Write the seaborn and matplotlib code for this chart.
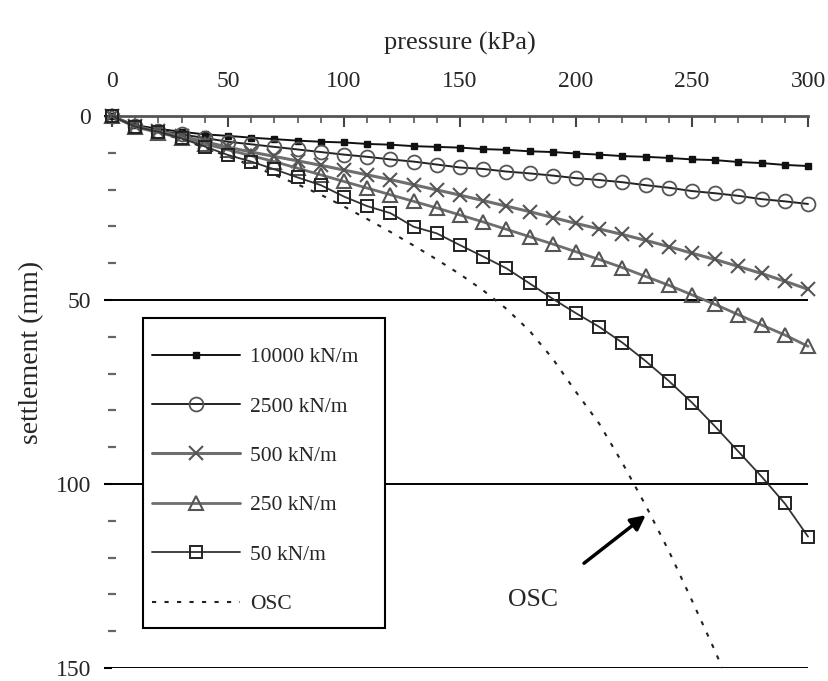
import pandas as pd
import matplotlib.pyplot as plt
import seaborn as sns
from matplotlib.ticker import MultipleLocator
from matplotlib.patches import Rectangle

# pressure steps (kPa) used by every stiffness series
pressure = [0, 10, 20, 30, 40, 50, 60, 70, 80, 90, 100, 110, 120, 130, 140, 150,
            160, 170, 180, 190, 200, 210, 220, 230, 240, 250, 260, 270, 280, 290, 300]

# settlement (mm)
s_10000 = [0, 2.5, 3.5, 4.3, 5.0, 5.4, 5.9, 6.3, 6.7, 7.0, 7.2, 7.6, 7.8, 8.2, 8.4, 8.6,
           9.0, 9.2, 9.6, 9.8, 10.2, 10.5, 10.9, 11.1, 11.4, 11.8, 12.0, 12.5, 12.8, 13.3, 13.6]
s_2500 = [0, 2.8, 4.0, 5.0, 6.0, 7.0, 7.7, 8.4, 9.1, 9.8, 10.5, 11.1, 11.8, 12.4, 13.2, 14.0,
          14.4, 15.1, 15.6, 16.2, 16.9, 17.4, 18.0, 18.8, 19.5, 20.4, 21.0, 21.7, 22.6, 23.2, 23.9]
s_500 = [0, 2.8, 4.2, 5.5, 7.0, 8.5, 9.8, 11.0, 12.2, 13.4, 14.7, 16.0, 17.3, 18.7, 20.1, 21.5,
         23.0, 24.5, 26.0, 27.6, 29.2, 30.7, 32.2, 33.8, 35.5, 37.3, 39.0, 40.9, 42.8, 44.9, 47.1]
s_250 = [0, 3.0, 4.5, 6.0, 7.6, 9.2, 10.8, 12.4, 14.2, 16.0, 17.8, 19.6, 21.4, 23.2, 25.0, 26.9,
         28.8, 30.8, 32.8, 34.8, 36.9, 39.0, 41.2, 43.6, 46.0, 48.6, 51.2, 54.0, 56.8, 59.5, 62.6]
s_50 = [0, 2.9, 4.3, 6.1, 8.3, 10.6, 12.4, 14.5, 16.7, 18.8, 21.9, 24.5, 26.4, 30.1, 31.9, 35.1,
        38.2, 41.4, 45.5, 49.7, 53.6, 57.3, 61.6, 66.6, 72.0, 77.9, 84.4, 91.2, 98.0, 105.3, 114.3]

# OSC curve (no markers), ends where it leaves the chart at 150 mm
osc_pressure = [0, 10, 20, 30, 40, 50, 60, 70, 80, 90, 100, 110, 120, 130, 140, 150,
                160, 170, 180, 190, 200, 210, 220, 230, 240, 250, 260, 263]
osc_settlement = [0, 2.8, 4.5, 6.4, 8.6, 11.0, 13.4, 16.0, 18.6, 21.4, 24.6, 28.0, 31.5, 35.2,
                  39.0, 43.0, 47.4, 52.4, 58.4, 66.0, 75.0, 83.6, 94.3, 105.8, 118.2, 131.7, 145.5, 150]

labels = ["10000 kN/m", "2500 kN/m", "500 kN/m", "250 kN/m", "50 kN/m"]
series = [s_10000, s_2500, s_500, s_250, s_50]

rows = []
for lab, vals in zip(labels, series):
    for p, s in zip(pressure, vals):
        rows.append({"pressure": p, "settlement": s, "stiffness": lab})
for p, s in zip(osc_pressure, osc_settlement):
    rows.append({"pressure": p, "settlement": s, "stiffness": "OSC"})
df = pd.DataFrame(rows)

sns.set_theme(style="white")
plt.rcParams["font.family"] = ["Liberation Serif", "DejaVu Serif"]

fig = plt.figure(figsize=(8.29, 6.81), dpi=100)
ax = fig.add_axes([0.1351, 0.0191, 0.8396, 0.8106])

styles = {
    "10000 kN/m": dict(color="#111111", lw=1.4, marker="s", ms=5, mfc="#111111", mec="#111111", mew=1),
    "2500 kN/m": dict(color="#222222", lw=1.4, marker="o", ms=10, mfc="none", mec="#555555", mew=1.3),
    "500 kN/m": dict(color="#6e6e6e", lw=2.2, marker="x", ms=10, mfc="none", mec="#555555", mew=1.5),
    "250 kN/m": dict(color="#6e6e6e", lw=2.0, marker="^", ms=10, mfc="none", mec="#555555", mew=1.5),
    "50 kN/m": dict(color="#333333", lw=1.3, marker="s", ms=9, mfc="none", mec="#222222", mew=1.4),
}

for lab in labels:
    st = styles[lab]
    sns.lineplot(data=df[df["stiffness"] == lab], x="pressure", y="settlement", ax=ax,
                 color=st["color"], linewidth=st["lw"], marker=st["marker"],
                 markersize=st["ms"], markerfacecolor=st["mfc"], markeredgecolor=st["mec"],
                 markeredgewidth=st["mew"], label=lab, clip_on=False, zorder=3)

sns.lineplot(data=df[df["stiffness"] == "OSC"], x="pressure", y="settlement", ax=ax,
             color="#222222", linewidth=1.5, linestyle=(0, (2, 4)), label="OSC",
             clip_on=False, zorder=2)

ax.set_xlim(0, 300)
ax.set_ylim(150, 0)

# axes on top, only the top spine
ax.xaxis.tick_top()
ax.xaxis.set_label_position("top")
for side in ["left", "right", "bottom"]:
    ax.spines[side].set_visible(False)
ax.spines["top"].set_color("#555555")
ax.spines["top"].set_linewidth(2)

ax.xaxis.set_major_locator(MultipleLocator(50))
ax.xaxis.set_minor_locator(MultipleLocator(10))
ax.yaxis.set_major_locator(MultipleLocator(50))
ax.yaxis.set_minor_locator(MultipleLocator(10))

ax.tick_params(axis="x", which="major", direction="in", length=8, width=1.5, color="#444444",
               labelsize=17, pad=17, top=True, bottom=False)
ax.tick_params(axis="x", which="minor", direction="in", length=5, width=1.2, color="#555555",
               top=True, bottom=False)
ax.tick_params(axis="y", which="major", direction="out", length=6, width=1.5, color="black",
               labelsize=17, pad=9, left=True)
ax.tick_params(axis="y", which="minor", direction="inout", length=6, width=1.6, color="#666666",
               left=True)

ax.yaxis.grid(True, which="major", color="black", linewidth=1.4)
ax.xaxis.grid(False)
ax.set_axisbelow(True)

ax.set_xlabel("pressure (kPa)", fontsize=19)
ax.xaxis.set_label_coords(0.5, 1.12)
ax.set_ylabel("settlement (mm)", fontsize=20)
ax.yaxis.set_label_coords(-0.098, 0.571)

# legend box drawn as a separate frame so the padding can match the original
ax.add_patch(Rectangle((0.0445, 0.0725), 0.3477, 0.5616, transform=ax.transAxes,
                       facecolor="white", edgecolor="black", linewidth=1.5,
                       clip_on=False, zorder=4))
leg = ax.legend(loc="upper left", bbox_to_anchor=(0.0575, 0.581), borderaxespad=0,
                fontsize=15.5, frameon=False, handlelength=4.1,
                handletextpad=0.47, labelspacing=1.36, borderpad=0)
leg.set_zorder(5)

ax.annotate("", xy=(231, 108), xytext=(202.5, 122),
            arrowprops=dict(arrowstyle="-|>", color="black", lw=2.5, mutation_scale=22))
ax.text(181.5, 131.5, "OSC", fontsize=18.5, ha="center", va="center")

fig.savefig("out.png", dpi=100)
